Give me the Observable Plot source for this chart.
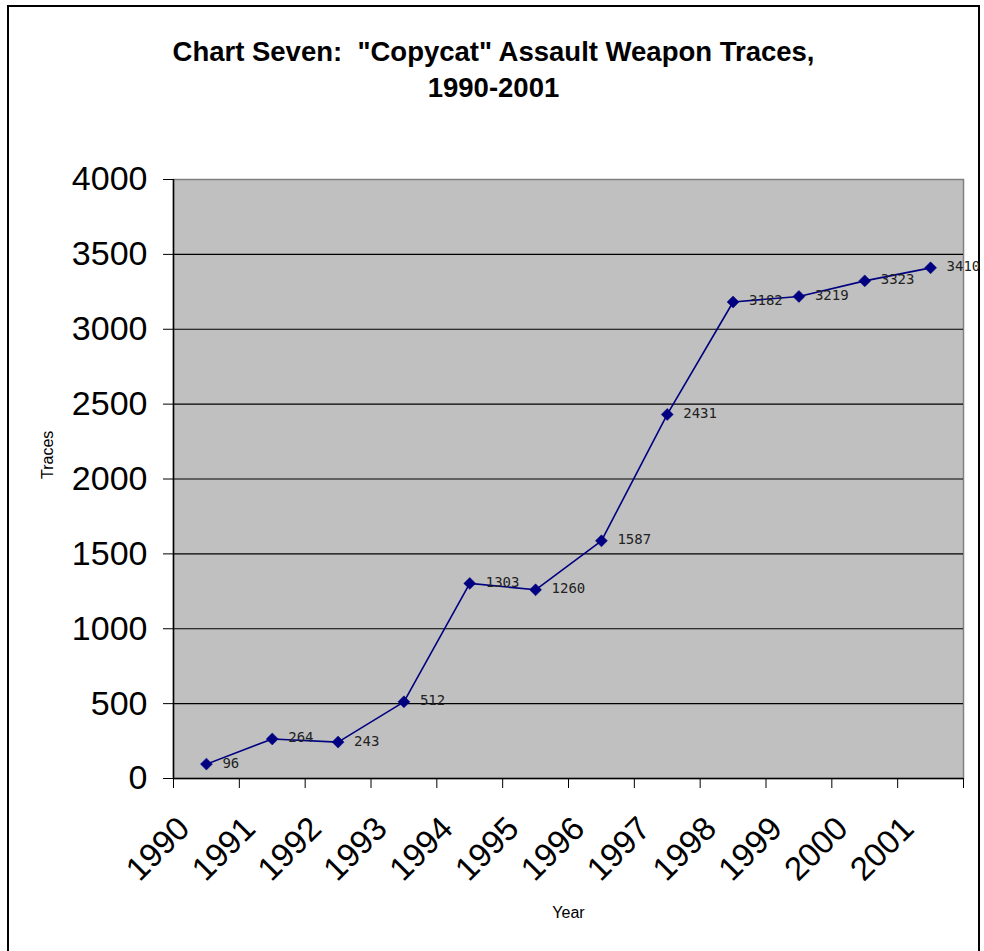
<!DOCTYPE html>
<html>
<head>
<meta charset="utf-8">
<script src="https://cdn.jsdelivr.net/npm/d3@7"></script>
<script src="https://cdn.jsdelivr.net/npm/@observablehq/plot@0.6"></script>
<style>
  html, body { margin: 0; padding: 0; background: #fff; }
  #page { position: relative; width: 984px; height: 951px; overflow: hidden; font-family: "Liberation Sans", Arial, sans-serif; }
  #border { position: absolute; left: 7px; top: 5px; width: 969px; height: 960px; border: 2px solid #000; }
  #title { position: absolute; left: 7px; top: 0; width: 973px; padding-top: 34px; text-align: center; font-weight: bold; font-size: 27.5px; line-height: 36px; white-space: pre; color: #000; }
  #chart { position: absolute; left: 0; top: 120px; }
</style>
</head>
<body>
<div id="page">
  <div id="border"></div>
  <div id="title">Chart Seven:  "Copycat" Assault Weapon Traces,
1990-2001</div>
  <div id="chart"></div>
</div>
<script>
const years = [1990, 1991, 1992, 1993, 1994, 1995, 1996, 1997, 1998, 1999, 2000, 2001];
const traces = [96, 264, 243, 512, 1303, 1260, 1587, 2431, 3182, 3219, 3323, 3410];
const yTicks = [0, 500, 1000, 1500, 2000, 2500, 3000, 3500, 4000];
const gridValues = [500, 1000, 1500, 2000, 2500, 3000, 3500];
const xLabel = "Year";
const yLabel = "Traces";

const data = years.map((year, i) => ({year, value: traces[i]}));
const boundaries = d3.range(years[0], years[years.length - 1] + 2);
const navy = "#000080";

const chart = Plot.plot({
  width: 984,
  height: 831,
  marginTop: 59,
  marginBottom: 173,
  marginLeft: 173,
  marginRight: 21,
  style: {fontFamily: '"Liberation Sans", Arial, sans-serif', background: "transparent", overflow: "visible"},
  x: {type: "linear", domain: [years[0], years[years.length - 1] + 1]},
  y: {domain: [0, 4000]},
  marks: [
    Plot.frame({fill: "#c0c0c0", stroke: "#808080", strokeWidth: 1.5}),
    Plot.ruleY(gridValues, {stroke: "#000", strokeWidth: 1.2}),
    Plot.ruleX([years[0]], {stroke: "#000", strokeWidth: 1.5}),
    Plot.ruleY([0], {stroke: "#000", strokeWidth: 1.5}),
    Plot.axisY({ticks: yTicks, tickSize: 10, tickPadding: 16, fontSize: 34, label: null, tickFormat: d => String(d)}),
    Plot.axisX({ticks: boundaries, tickSize: 10, tickFormat: () => "", label: null}),
    Plot.text(years, {x: d => d, frameAnchor: "bottom", dx: 18, dy: 52, rotate: -45, textAnchor: "end", fontSize: 33, fill: "#000", text: d => String(d)}),
    Plot.line(data, {x: d => d.year + 0.5, y: "value", stroke: navy, strokeWidth: 1.6}),
    Plot.dot(data, {x: d => d.year + 0.5, y: "value", symbol: "diamond2", r: 5.4, fill: navy, stroke: navy, strokeWidth: 0.5}),
    Plot.text(data, {x: d => d.year + 0.5, y: "value", text: d => String(d.value), dx: 16, dy: -1, textAnchor: "start", fontSize: 14, fontFamily: "DejaVu Sans Mono", fill: "#222"}),
    Plot.text([yLabel], {frameAnchor: "left", dx: -126, rotate: -90, fontSize: 16, fill: "#000", text: d => d}),
    Plot.text([xLabel], {frameAnchor: "bottom", dy: 139, fontSize: 16, fill: "#000", text: d => d})
  ]
});
document.getElementById("chart").appendChild(chart);
</script>
</body>
</html>
